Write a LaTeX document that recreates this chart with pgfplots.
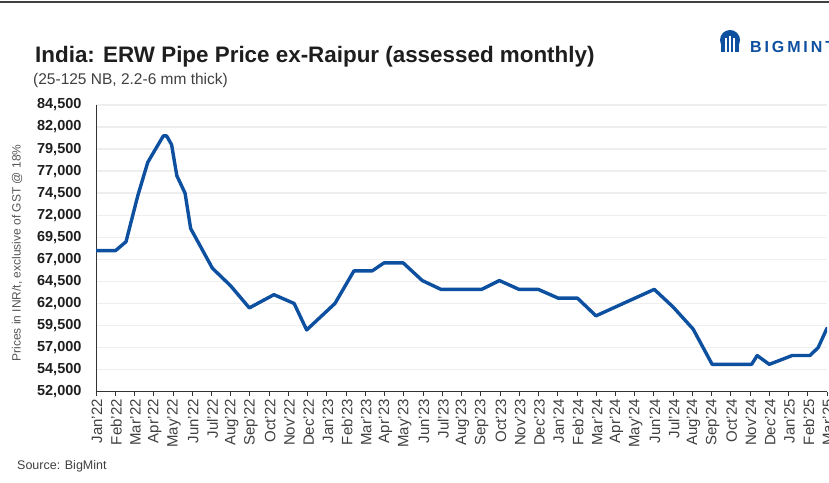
\documentclass[border=0pt]{standalone}
\usepackage{pgfplots}
\pgfplotsset{compat=1.18}
\usepackage{fontspec}
\setmainfont{Liberation Sans}
\newfontfamily\logofont[LetterSpace=18]{Liberation Sans}
\definecolor{lineblue}{RGB}{14,80,160}
\definecolor{txt}{RGB}{30,30,30}
\definecolor{gridc}{RGB}{238,238,238}
\definecolor{labgrey}{RGB}{85,85,85}
\begin{document}
\begin{tikzpicture}[x=1pt,y=1pt]
\clip (0,0) rectangle (829,482);
\fill[white] (0,0) rectangle (829,482);
\draw[line width=2pt, black!75] (0,480) -- (829,480);
\node[anchor=base west, font=\bfseries\fontsize{22.4}{24}\selectfont, text=txt, inner sep=0] at (35,419) {India: ERW Pipe Price ex-Raipur (assessed monthly)};
\node[anchor=base west, font=\fontsize{15.5}{17}\selectfont, text=txt!85, inner sep=0] at (33,397) {(25-125 NB, 2.2-6 mm thick)};
% logo
\fill[lineblue] (730,442) circle (10);
\fill[lineblue] (721,442) rectangle (739,430);
\draw[white, line width=1.3pt] (726,429) -- (726,444) (730,429) -- (730,446) (734,429) -- (734,444);
\node[anchor=base west, font=\logofont\bfseries\fontsize{16}{18}\selectfont, text=lineblue, inner sep=0] at (750,429) {BIGMINT};
\node[rotate=90, font=\fontsize{12}{13}\selectfont, text=labgrey] at (17,229) {Prices in INR/t, exclusive of GST @ 18\%};
\node[anchor=base west, font=\fontsize{12.5}{13}\selectfont, text=txt!85, inner sep=0] at (17,13) {Source: BigMint};
\begin{axis}[
  at={(96pt,90.3pt)}, anchor=south west, scale only axis,
  width=731pt, height=286.7pt,
  xmin=0, xmax=38, ymin=52000, ymax=84500,
  axis x line*=bottom, axis y line*=left,
  axis line style={black!80, line width=1pt},
  ytick={52000,54500,...,84500},
  scaled y ticks=false,
  /pgf/number format/fixed, /pgf/number format/1000 sep={,}, /pgf/number format/assume math mode=true,
  yticklabel style={font=\bfseries\fontsize{14.5}{15}\selectfont, text=txt, xshift=-7pt},
  ytick style={draw=none},
  ymajorgrids, grid style={gridc, line width=1.5pt},
  xtick={0,...,38},
  xticklabels={Jan'22,Feb'22,Mar'22,Apr'22,May'22,Jun'22,Jul'22,Aug'22,Sep'22,Oct'22,Nov'22,Dec'22,Jan'23,Feb'23,Mar'23,Apr'23,May'23,Jun'23,Jul'23,Aug'23,Sep'23,Oct'23,Nov'23,Dec'23,Jan'24,Feb'24,Mar'24,Apr'24,May'24,Jun'24,Jul'24,Aug'24,Sep'24,Oct'24,Nov'24,Dec'24,Jan'25,Feb'25,Mar'25},
  xticklabel style={rotate=90, anchor=east, font=\fontsize{15}{15}\selectfont, text=txt!85, yshift=-1pt},
  x tick style={black!80, line width=0.8pt},
  tick align=outside, major tick length=4pt,
]
\addplot[lineblue, line width=3.4pt, line join=round, line cap=round, mark=none] coordinates {
(0,68000) (1.02,68000) (1.56,69000) (2.17,74200) (2.69,78000) (3.5,81000) (3.67,81000) (3.93,80000) (4.2,76500) (4.63,74500) (4.92,70500) (6.05,66000) (7,64000) (7.97,61500) (9.25,63000) (10.3,62000) (10.95,59000) (12.42,62000) (13.41,65700) (14.36,65700) (14.97,66600) (15.97,66600) (16.96,64600) (17.93,63600) (20.05,63600) (20.97,64600) (21.99,63600) (22.99,63600) (24.03,62600) (25.03,62600) (25.99,60600) (29.02,63600) (30.0,61600) (31.04,59100) (32.03,55100) (34.08,55100) (34.37,56100) (35.0,55100) (36.19,56100) (37.11,56100) (37.54,57000) (38,59200)
};
\end{axis}
\end{tikzpicture}
\end{document}
